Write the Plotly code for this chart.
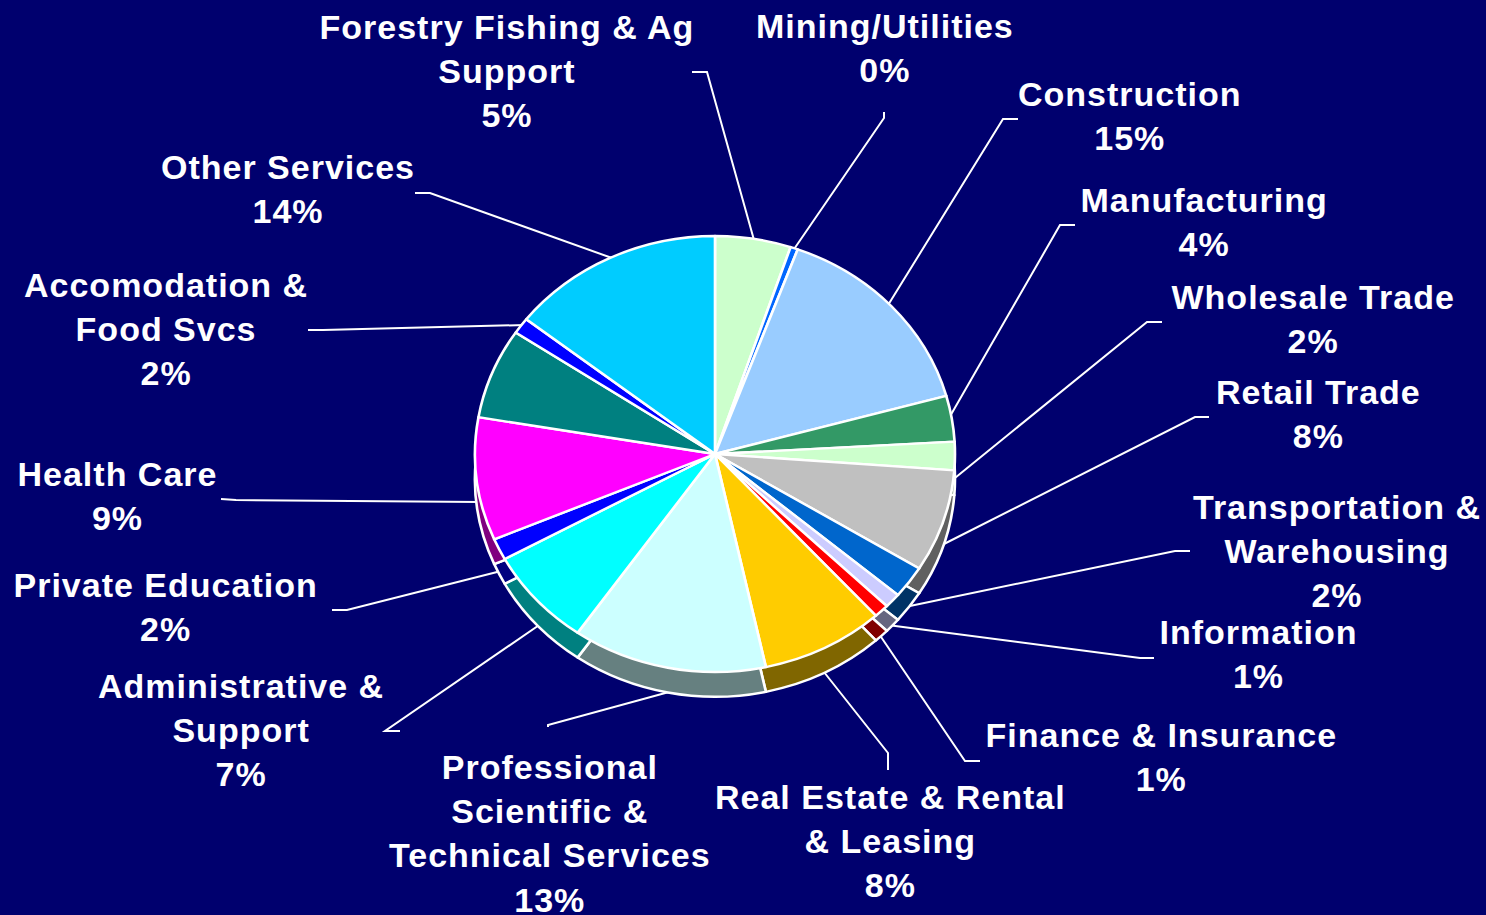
import plotly.graph_objects as go

W, H = 1486, 915

categories = ["Forestry Fishing & Ag Support", "Mining/Utilities", "Construction", "Manufacturing",
              "Wholesale Trade", "Retail Trade", "Transportation & Warehousing", "Information",
              "Finance & Insurance", "Real Estate & Rental & Leasing",
              "Professional Scientific & Technical Services", "Administrative & Support",
              "Private Education", "Health Care", "Unlabelled", "Accomodation & Food Svcs",
              "Other Services"]
values = [5.1, 0.5, 15.1, 3.4, 2.1, 7.6, 2.4, 1.1, 1.0, 8.3, 13.1, 7.3, 1.6, 9.1, 6.7, 1.2, 14.4]
colors = ["#CCFFCC", "#0066FF", "#99CCFF", "#339966", "#CCFFCC", "#C0C0C0", "#0066CC", "#CCCCFF",
          "#FF0000", "#FFCC00", "#CCFFFF", "#00FFFF", "#0000FF", "#FF00FF", "#008080", "#0000FF",
          "#00CCFF"]
rim_colors = ["#668066", "#003380", "#4C6680", "#194C33", "#668066", "#606060", "#003366", "#666680",
              "#800000", "#806600", "#668080", "#008080", "#000080", "#800080", "#004040", "#000080",
              "#006680"]

label_lines = ["Forestry Fishing & Ag<br>Support<br>5%", "Mining/Utilities<br>0%", "Construction<br>15%",
               "Manufacturing<br>4%", "Wholesale Trade<br>2%", "Retail Trade<br>8%",
               "Transportation &<br>Warehousing<br>2%", "Information<br>1%", "Finance & Insurance<br>1%",
               "Real Estate & Rental<br>& Leasing<br>8%", "Professional<br>Scientific &<br>Technical Services<br>13%",
               "Administrative &<br>Support<br>7%", "Private Education<br>2%", "Health Care<br>9%",
               "Accomodation &<br>Food Svcs<br>2%", "Other Services<br>14%"]
label_x = [507, 885, 1130, 1204, 1313, 1318, 1337, 1258, 1161, 890, 550, 241, 165, 117, 166, 288]
label_y = [71, 48, 116, 222, 319, 414, 551, 654, 757, 841, 833, 730, 607, 496, 329, 189]

leaders = [[(692, 72), (707, 72), (754, 240)], [(884, 112), (884, 118), (790, 255)],
           [(1018, 119), (1003, 119), (885, 310)], [(1075, 225), (1060, 225), (945, 425)],
           [(1162, 322), (1147, 322), (950, 482)], [(1209, 417), (1195, 417), (940, 546)],
           [(1190, 551), (1175, 551), (905, 607)], [(1154, 658), (1140, 658), (880, 624)],
           [(980, 761), (965, 761), (875, 628)], [(888, 770), (888, 753), (820, 667)],
           [(548, 727), (548, 725), (680, 689)], [(400, 731), (385, 731), (545, 621)],
           [(332, 610), (347, 610), (505, 570)], [(221, 499), (236, 500), (480, 502)],
           [(308, 330), (323, 330), (525, 325)], [(415, 193), (430, 193), (612, 258)]]

CX, CY, R, DEPTH = 715, 454, 229, 26
SX, SY = 240 / R, 218 / R


def domain(cy):
    return dict(x=[(CX - R) / W, (CX + R) / W], y=[1 - (cy + R) / H, 1 - (cy - R) / H])


def pie(cols, cy, name):
    return go.Pie(labels=categories, values=values, sort=False, direction="clockwise", rotation=0,
                  marker=dict(colors=cols, line=dict(color="white", width=2.5)),
                  textinfo="none", hoverinfo="label+percent", domain=domain(cy),
                  showlegend=False, name=name)


fig = go.Figure([pie(rim_colors, CY + DEPTH, "rim"), pie(colors, CY, "top")])

for pts in leaders:
    path = "M " + " L ".join(f"{x / W:.5f},{1 - y / H:.5f}" for x, y in pts)
    fig.add_shape(type="path", path=path, xref="paper", yref="paper", layer="below",
                  line=dict(color="white", width=2))

for text, x, y in zip(label_lines, label_x, label_y):
    fig.add_annotation(text=text, x=x / W, y=1 - y / H, xref="paper", yref="paper",
                       xanchor="center", yanchor="middle", align="center", showarrow=False,
                       font=dict(family="Liberation Sans", size=34, color="white", weight="bold"))

fig.update_layout(width=W, height=H, margin=dict(l=0, r=0, t=0, b=0), autosize=False,
                  paper_bgcolor="#00006E", plot_bgcolor="#00006E")

post = f"""
document.body.style.margin = '0';
document.body.style.background = '#00006E';
var pl = document.querySelector('.pielayer');
pl.style.transformOrigin = '{CX}px {CY}px';
pl.style.transform = 'scale({SX:.4f},{SY:.4f})';
document.querySelectorAll('.annotation-text').forEach(function (t) {{ t.style.letterSpacing = '1px'; }});
"""
fig.write_html("out.html", post_script=post, config=dict(displayModeBar=False))
